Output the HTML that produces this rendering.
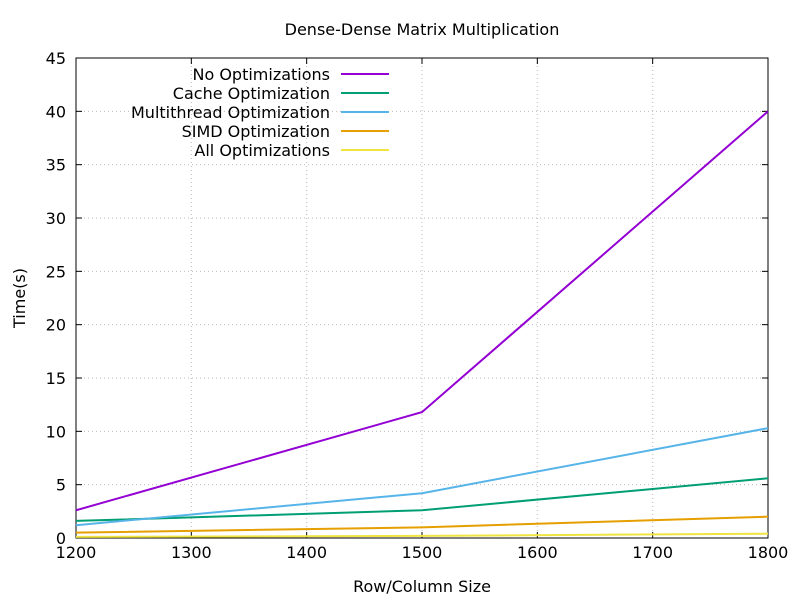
<!DOCTYPE html>
<html><head><meta charset="utf-8"><style>
body{margin:0;background:#fff;}
svg{display:block;font-family:"DejaVu Sans","Liberation Sans",sans-serif;}
</style></head><body>
<svg id="chart" width="800" height="600">
<rect width="800" height="600" fill="#fff"/>
<text x="422" y="35" text-anchor="middle" font-size="16">Dense-Dense Matrix Multiplication</text>
<g id="grid"></g><g id="axes"></g><g id="series"></g><g id="legend"></g>
<text x="422" y="592" text-anchor="middle" font-size="16">Row/Column Size</text>
<text transform="translate(25,298) rotate(-90)" text-anchor="middle" font-size="16">Time(s)</text>
</svg>
<script>
const xs=[1200,1500,1800];
const names=["No Optimizations","Cache Optimization","Multithread Optimization","SIMD Optimization","All Optimizations"];
const colors=["#9400d3","#009e73","#56b4e9","#e69f00","#f0e442"];
const sNo=[2.6,11.8,40.0];
const sCache=[1.6,2.6,5.6];
const sMulti=[1.2,4.2,10.3];
const sSimd=[0.5,1.0,2.0];
const sAll=[0.1,0.2,0.4];
const xTicks=[1200,1300,1400,1500,1600,1700,1800];
const yTicks=[0,5,10,15,20,25,30,35,40,45];
const L=76,R=768,T=58,B=538;
const X=v=>L+(v-1200)/600*(R-L);
const Y=v=>B-v/45*(B-T);
const NS="http://www.w3.org/2000/svg";
function mk(p,t,a){const e=document.createElementNS(NS,t);for(const k in a)e.setAttribute(k,a[k]);p.appendChild(e);return e;}
const grid=document.getElementById('grid'),axes=document.getElementById('axes');
xTicks.forEach(v=>{
 if(v>1200&&v<1800){const g=mk(grid,'line',{x1:X(v),x2:X(v),y1:T,y2:B,stroke:'#bbb','stroke-dasharray':'1,3'});
 }
 mk(axes,'line',{x1:X(v),x2:X(v),y1:B,y2:B-6,stroke:'#000'});
 mk(axes,'line',{x1:X(v),x2:X(v),y1:T,y2:T+6,stroke:'#000'});
 const tx=mk(axes,'text',{x:X(v),y:B+20,'text-anchor':'middle','font-size':16});tx.textContent=v;
 
});
yTicks.forEach(v=>{
 if(v>0&&v<45){const g=mk(grid,'line',{x1:L,x2:R,y1:Y(v),y2:Y(v),stroke:'#bbb','stroke-dasharray':'1,3'});
 }
 mk(axes,'line',{x1:L,x2:L+6,y1:Y(v),y2:Y(v),stroke:'#000'});
 mk(axes,'line',{x1:R,x2:R-6,y1:Y(v),y2:Y(v),stroke:'#000'});
 const tx=mk(axes,'text',{x:L-10,y:Y(v)+6,'text-anchor':'end','font-size':16});tx.textContent=v;
 
});
const fr=mk(axes,'rect',{x:L,y:T,width:R-L,height:B-T,fill:'none',stroke:'#000'});

const data=[sNo,sCache,sMulti,sSimd,sAll];
const ser=document.getElementById('series'),leg=document.getElementById('legend');
data.forEach((s,i)=>{
 const p=mk(ser,'polyline',{points:s.map((v,j)=>X(xs[j])+','+Y(v)).join(' '),fill:'none',stroke:colors[i],'stroke-width':2});
 
 const y=74+i*19;
 const t=mk(leg,'text',{x:330,y:y+6,'text-anchor':'end','font-size':16});t.textContent=names[i];
 
 mk(leg,'line',{x1:341,x2:389,y1:y,y2:y,stroke:colors[i],'stroke-width':2});
});
</script>
</body></html>
